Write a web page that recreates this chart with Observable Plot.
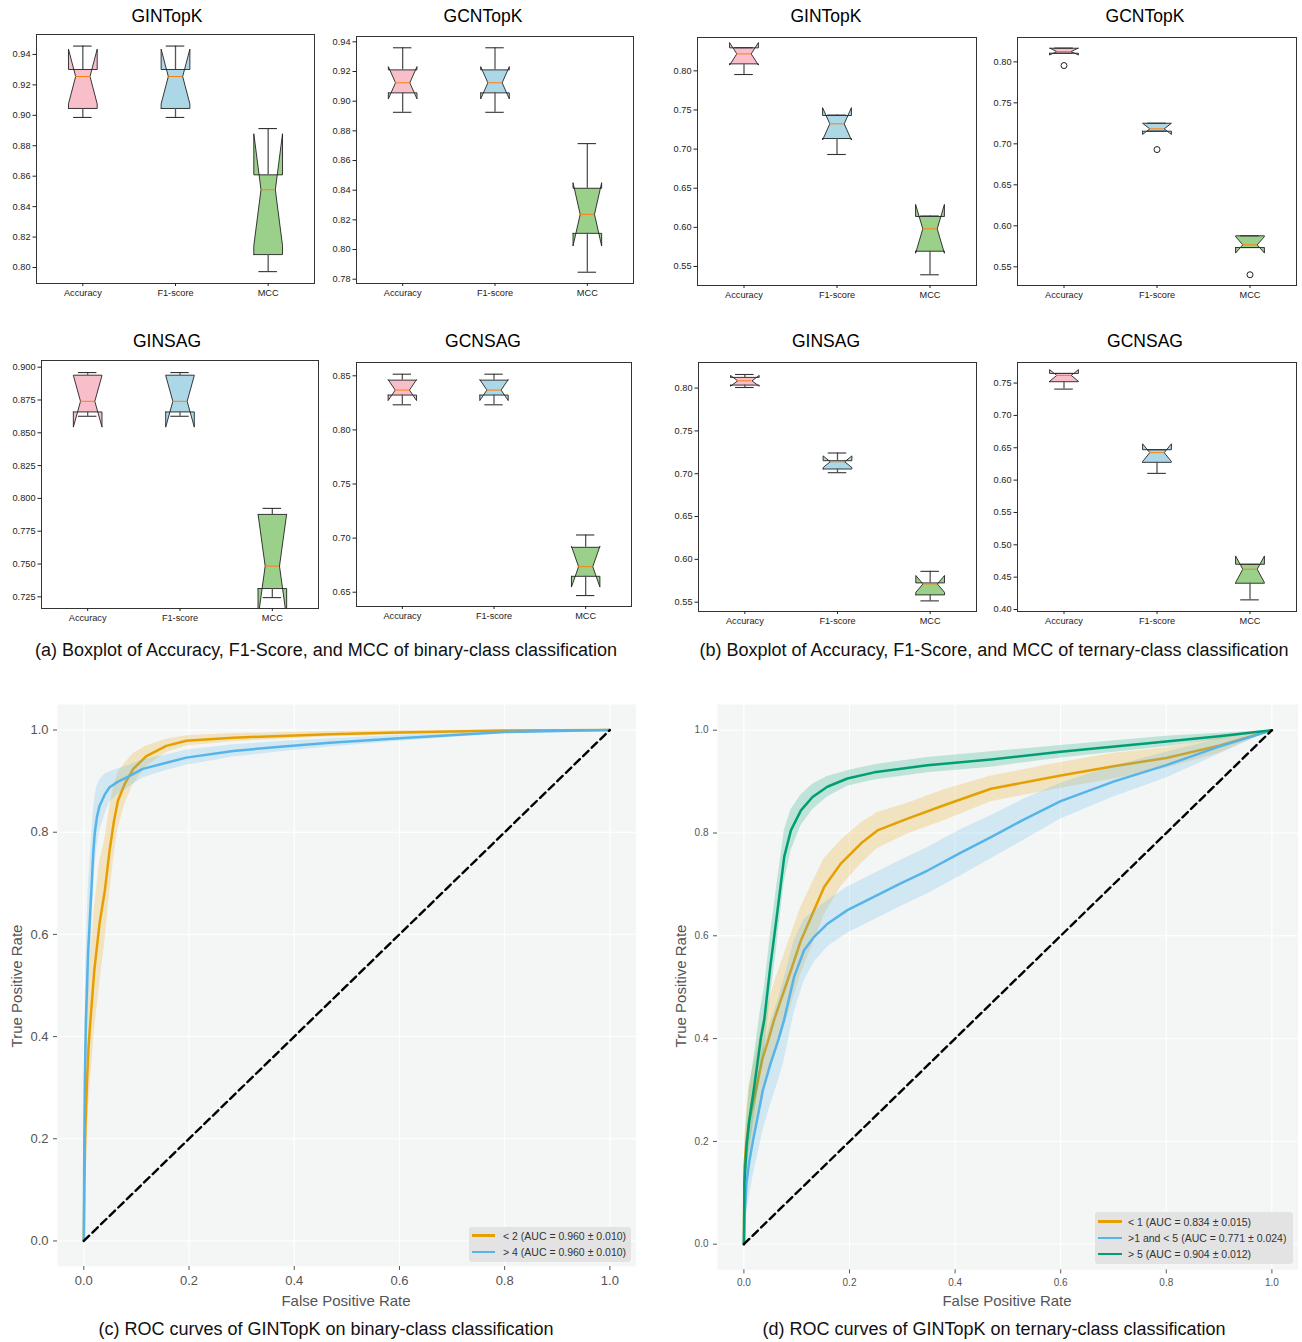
<!DOCTYPE html>
<html><head><meta charset="utf-8">
<script src="https://cdn.jsdelivr.net/npm/d3@7"></script>
<script src="https://cdn.jsdelivr.net/npm/@observablehq/plot@0.6"></script>
<style>
body{margin:0;background:#fff;font-family:"Liberation Sans",Arial,Helvetica,sans-serif;}
#root{position:relative;width:1302px;height:1342px;overflow:hidden;background:#fff;}
.title{position:absolute;font-size:17.5px;color:#000;transform:translate(-50%,-50%);white-space:nowrap;}
.cap{position:absolute;font-size:18px;color:#111;transform:translate(-50%,-50%);white-space:nowrap;}
.axl{position:absolute;font-size:15px;color:#555;transform:translate(-50%,-50%);white-space:nowrap;}
.leg{position:absolute;background:#e3e3e3;border-radius:3px;font-size:10.5px;color:#333;}
.leg .sw{position:absolute;height:2.5px;}
.leg .tx{position:absolute;transform:translateY(-50%);white-space:nowrap;}
</style></head><body><div id="root"></div>
<script>
// ---------- Box plot data: [whiskerLow, Q1, median, Q3, whiskerHigh] per metric ----------
const metrics = ["Accuracy", "F1-score", "MCC"];
const binGINTopK = [[0.8986,0.9045,0.9255,0.9301,0.9455],[0.8986,0.9045,0.9255,0.9301,0.9455],[0.7973,0.8085,0.8511,0.8609,0.8913]];
const binGCNTopK = [[0.8925,0.9056,0.9124,0.9211,0.9360],[0.8925,0.9056,0.9124,0.9211,0.9360],[0.7847,0.8109,0.8237,0.8413,0.8714]];
const binGINSAG  = [[0.8626,0.8659,0.8740,0.8939,0.8959],[0.8626,0.8659,0.8740,0.8939,0.8959],[0.7244,0.7313,0.7484,0.7878,0.7924]];
const binGCNSAG  = [[0.8232,0.8322,0.8368,0.8460,0.8515],[0.8232,0.8322,0.8368,0.8460,0.8515],[0.6469,0.6647,0.6736,0.6915,0.7029]];
const terGINTopK = [[0.7953,0.8089,0.8217,0.8294,0.8296],[0.6931,0.7135,0.7323,0.7429,0.7435],[0.5394,0.5695,0.5981,0.6139,0.6145]];
const terGCNTopK = [[0.8105,0.8105,0.8126,0.8166,0.8168],[0.7154,0.7154,0.7183,0.7251,0.7251],[0.5735,0.5735,0.5768,0.5878,0.5878]];
const terGCNTopKOutliers = [0.7955, 0.6930, 0.5403];
const terGINSAG  = [[0.8007,0.8035,0.8085,0.8125,0.8159],[0.7012,0.7055,0.7140,0.7152,0.7242],[0.5515,0.5585,0.5713,0.5725,0.5860]];
const terGCNSAG  = [[0.7407,0.7521,0.7618,0.7649,0.7649],[0.6104,0.6275,0.6424,0.6470,0.6470],[0.4149,0.4406,0.4622,0.4699,0.4699]];
const foldCount = 5;

// ---------- ROC data (mean FPR grid, mean TPR, TPR std) ----------
const binLt2Fpr = [0,0.001,0.003,0.006,0.009,0.0127,0.020,0.030,0.040,0.049,0.057,0.065,0.078,0.094,0.119,0.157,0.195,0.284,0.468,0.600,0.800,1.0];
const binLt2Tpr = [0,0.10,0.22,0.31,0.38,0.433,0.53,0.622,0.686,0.764,0.82,0.862,0.895,0.924,0.949,0.969,0.979,0.985,0.992,0.995,0.999,1.0];
const binLt2Std = [0,0.06,0.09,0.11,0.12,0.12,0.12,0.12,0.10,0.085,0.07,0.055,0.04,0.03,0.02,0.013,0.01,0.008,0.005,0.004,0.002,0];
const binGt4Fpr = [0,0.001,0.002,0.004,0.008,0.012,0.0146,0.018,0.021,0.025,0.030,0.040,0.049,0.065,0.081,0.112,0.157,0.195,0.284,0.379,0.468,0.600,0.800,1.0];
const binGt4Tpr = [0,0.20,0.32,0.43,0.56,0.64,0.69,0.76,0.80,0.83,0.852,0.874,0.888,0.899,0.907,0.924,0.936,0.946,0.959,0.968,0.975,0.984,0.996,1.0];
const binGt4Std = [0,0.08,0.10,0.12,0.12,0.11,0.10,0.08,0.07,0.06,0.05,0.04,0.03,0.025,0.022,0.018,0.015,0.015,0.012,0.01,0.008,0.006,0.003,0];

const terLt1Fpr = [0,0.001,0.005,0.010,0.023,0.035,0.047,0.057,0.083,0.108,0.133,0.152,0.184,0.222,0.253,0.310,0.379,0.468,0.600,0.700,0.800,0.900,1.0];
const terLt1Tpr = [0,0.15,0.20,0.24,0.30,0.36,0.40,0.436,0.514,0.591,0.650,0.695,0.741,0.780,0.805,0.828,0.854,0.886,0.912,0.930,0.946,0.970,1.0];
const terLt1Std = [0,0.05,0.06,0.07,0.07,0.07,0.07,0.07,0.07,0.065,0.06,0.055,0.045,0.04,0.035,0.03,0.03,0.025,0.025,0.025,0.02,0.015,0];
const terMidFpr = [0,0.001,0.005,0.010,0.017,0.036,0.050,0.066,0.076,0.095,0.114,0.133,0.159,0.196,0.247,0.297,0.348,0.411,0.468,0.530,0.600,0.700,0.800,0.900,1.0];
const terMidTpr = [0,0.05,0.12,0.16,0.20,0.30,0.35,0.40,0.436,0.520,0.572,0.598,0.624,0.650,0.676,0.702,0.727,0.762,0.792,0.826,0.862,0.900,0.932,0.968,1.0];
const terMidStd = [0,0.04,0.06,0.07,0.07,0.08,0.08,0.08,0.08,0.07,0.06,0.05,0.045,0.045,0.045,0.045,0.045,0.045,0.042,0.04,0.035,0.03,0.025,0.015,0];
const terGt5Fpr = [0,0.001,0.005,0.010,0.020,0.032,0.0385,0.050,0.0606,0.0764,0.089,0.108,0.130,0.158,0.196,0.247,0.348,0.468,0.600,0.800,0.900,1.0];
const terGt5Tpr = [0,0.12,0.19,0.24,0.31,0.40,0.436,0.54,0.624,0.754,0.805,0.844,0.870,0.890,0.906,0.918,0.932,0.943,0.958,0.978,0.988,1.0];
const terGt5Std = [0,0.04,0.05,0.06,0.06,0.06,0.06,0.06,0.06,0.05,0.04,0.03,0.025,0.02,0.015,0.015,0.015,0.015,0.012,0.01,0.006,0];

const rocTicks = [0, 0.2, 0.4, 0.6, 0.8, 1.0];
const chance = [0, 1];
const legendC = ["< 2 (AUC = 0.960 ± 0.010)", "> 4 (AUC = 0.960 ± 0.010)"];
const legendD = ["< 1 (AUC = 0.834 ± 0.015)", ">1 and < 5 (AUC = 0.771 ± 0.024)", "> 5 (AUC = 0.904 ± 0.012)"];

// ---------- styles ----------
const boxFill = ["#f8bfcb", "#acd7e6", "#9bd08b"];
const orange = "#E69F00", sky = "#56B4E9", green = "#009E73";
const FONT = '"Liberation Sans", Arial, Helvetica, sans-serif';

const root = document.getElementById("root");
function put(el, left, top) { el.style.position = "absolute"; el.style.left = left + "px"; el.style.top = top + "px"; root.appendChild(el); return el; }
function text(cls, str, x, y) { const d = document.createElement("div"); d.className = cls; d.textContent = str; d.style.left = x + "px"; d.style.top = y + "px"; root.appendChild(d); return d; }

function boxPlot(stats, outliers, yDomain, yTicks, yFmt, fr) {
  const [L, T, R, B] = fr;
  const mL = 40, mT = 6, mR = 6, mB = 24;
  const hw = 0.155, nw = 0.0775, cw = 0.1;
  const poly = [], whisk = [], caps = [], meds = [];
  stats.forEach(([wl, q1, med, q3, wh], i) => {
    const p = i + 1, n = 1.57 * (q3 - q1) / Math.sqrt(foldCount);
    const lo = med - n, hi = med + n;
    const xs = [p-hw, p+hw, p+hw, p+nw, p+hw, p+hw, p-hw, p-hw, p-nw, p-hw, p-hw];
    const ys = [q1, q1, lo, med, hi, q3, q3, hi, med, lo, q1];
    xs.forEach((x, k) => poly.push({i, x, y: ys[k], c: boxFill[i]}));
    whisk.push({x: p, y1: wl, y2: q1}, {x: p, y1: q3, y2: wh});
    caps.push({x1: p - cw, x2: p + cw, y: wl}, {x1: p - cw, x2: p + cw, y: wh});
    meds.push({x1: p - nw, x2: p + nw, y: med});
  });
  const outs = (outliers || []).map((v, i) => ({x: i + 1, y: v}));
  const svg = Plot.plot({
    width: (R - L) + mL + mR, height: (B - T) + mT + mB,
    marginLeft: mL, marginRight: mR, marginTop: mT, marginBottom: mB,
    style: {fontFamily: FONT, fontSize: "9px", color: "#222", background: "transparent"},
    x: {domain: [0.5, 3.5], label: null},
    y: {domain: yDomain, label: null},
    marks: [
      Plot.line(poly, {x: "x", y: "y", z: "i", fill: "c", stroke: "#222", strokeWidth: 0.9, strokeLinejoin: "miter", clip: true}),
      Plot.ruleX(whisk, {x: "x", y1: "y1", y2: "y2", stroke: "#555", strokeWidth: 1.3, clip: true}),
      Plot.ruleY(caps, {x1: "x1", x2: "x2", y: "y", stroke: "#333", strokeWidth: 1.1, clip: true}),
      Plot.ruleY(meds, {x1: "x1", x2: "x2", y: "y", stroke: "#ff7f0e", strokeWidth: 1}),
      Plot.dot(outs, {x: "x", y: "y", r: 3, stroke: "#222", fill: "none", strokeWidth: 1}),
      Plot.frame({stroke: "#333", strokeWidth: 1}),
      Plot.axisY({ticks: yTicks, tickFormat: d3.format(yFmt), tickSize: 3.5, tickPadding: 2.5, fontSize: 9.2, color: "#222", label: null}),
      Plot.axisX({ticks: [1, 2, 3], tickFormat: d => metrics[d - 1], tickSize: 3, tickPadding: 3, fontSize: 9.2, color: "#222", label: null})
    ]
  });
  put(svg, L - mL, T - mT);
}

function rocPlot(curves, fr, tickFont, tickPad) {
  const [L, T, W, H] = fr;
  const mL = 57, mT = 10, mR = 6, mB = 40;
  const marks = [
    Plot.frame({fill: "#f4f6f6", stroke: null}),
    Plot.gridX({ticks: rocTicks, stroke: "#ffffff", strokeOpacity: 1, strokeWidth: 1}),
    Plot.gridY({ticks: rocTicks, stroke: "#ffffff", strokeOpacity: 1, strokeWidth: 1})
  ];
  curves.forEach(c => {
    const rows = c.fpr.map((f, k) => ({fpr: f, tpr: c.tpr[k], lo: Math.max(0, c.tpr[k] - c.sd[k]), hi: Math.min(1, c.tpr[k] + c.sd[k])}));
    marks.push(Plot.areaY(rows, {x: "fpr", y1: "lo", y2: "hi", fill: c.color, fillOpacity: 0.22}));
    marks.push(Plot.line(rows, {x: "fpr", y: "tpr", stroke: c.color, strokeWidth: 2.5}));
  });
  marks.push(Plot.line(chance.map(v => ({v})), {x: "v", y: "v", stroke: "#000", strokeWidth: 2.4, strokeDasharray: "7.5,4.5"}));
  marks.push(Plot.axisX({ticks: rocTicks, tickFormat: d3.format(".1f"), tickSize: 4, tickPadding: tickPad, fontSize: tickFont, color: "#555", label: null}));
  marks.push(Plot.axisY({ticks: rocTicks, tickFormat: d3.format(".1f"), tickSize: 4, tickPadding: tickPad, fontSize: tickFont, color: "#555", label: null}));
  const svg = Plot.plot({
    width: W + mL + mR, height: H + mT + mB,
    marginLeft: mL, marginRight: mR, marginTop: mT, marginBottom: mB,
    style: {fontFamily: FONT, fontSize: tickFont + "px", color: "#555", background: "transparent"},
    x: {domain: [-0.05, 1.05], label: null},
    y: {domain: [-0.05, 1.05], label: null},
    marks
  });
  put(svg, L - mL, T - mT);
}

function legend(labels, colors, box, rowY, lineX, lineW, textX) {
  const d = document.createElement("div");
  d.className = "leg";
  d.style.left = box[0] + "px"; d.style.top = box[1] + "px"; d.style.width = box[2] + "px"; d.style.height = box[3] + "px";
  labels.forEach((lab, i) => {
    const sw = document.createElement("div"); sw.className = "sw";
    sw.style.left = lineX + "px"; sw.style.width = lineW + "px"; sw.style.top = (rowY[i] - 1.25) + "px"; sw.style.background = colors[i];
    const tx = document.createElement("div"); tx.className = "tx"; tx.textContent = lab;
    tx.style.left = textX + "px"; tx.style.top = rowY[i] + "px";
    d.appendChild(sw); d.appendChild(tx);
  });
  root.appendChild(d);
}

// ---------- boxplots ----------
boxPlot(binGINTopK, null, [0.7895, 0.9531], d3.range(0.80, 0.9401, 0.02), ".2f", [36, 34, 314, 283]);
boxPlot(binGCNTopK, null, [0.7771, 0.9436], d3.range(0.78, 0.9401, 0.02), ".2f", [356, 36, 633, 283]);
boxPlot(terGINTopK, null, [0.5257, 0.8426], d3.range(0.55, 0.8001, 0.05), ".2f", [697, 37, 976, 285]);
boxPlot(terGCNTopK, terGCNTopKOutliers, [0.5272, 0.8297], d3.range(0.55, 0.8001, 0.05), ".2f", [1017, 37, 1296, 285]);
boxPlot(binGINSAG, null, [0.7161, 0.9051], d3.range(0.725, 0.9001, 0.025), ".3f", [41, 360, 318, 608]);
boxPlot(binGCNSAG, null, [0.6368, 0.8623], d3.range(0.65, 0.8501, 0.05), ".2f", [356, 362, 631, 606]);
boxPlot(terGINSAG, null, [0.5391, 0.8299], d3.range(0.55, 0.8001, 0.05), ".2f", [698, 362, 976, 611]);
boxPlot(terGCNSAG, null, [0.3969, 0.7818], d3.range(0.40, 0.7501, 0.05), ".2f", [1017, 362, 1296, 611]);

text("title", "GINTopK", 167, 16);
text("title", "GCNTopK", 483, 16);
text("title", "GINTopK", 826, 16);
text("title", "GCNTopK", 1145, 16);
text("title", "GINSAG", 167, 341);
text("title", "GCNSAG", 483, 341);
text("title", "GINSAG", 826, 341);
text("title", "GCNSAG", 1145, 341);

text("cap", "(a) Boxplot of Accuracy, F1-Score, and MCC of binary-class classification", 326, 650);
text("cap", "(b) Boxplot of Accuracy, F1-Score, and MCC of ternary-class classification", 994, 650);

// ---------- ROC curves ----------
rocPlot([
  {color: orange, fpr: binLt2Fpr, tpr: binLt2Tpr, sd: binLt2Std},
  {color: sky, fpr: binGt4Fpr, tpr: binGt4Tpr, sd: binGt4Std}
], [57.3, 704, 578.7, 562], 13, 5);
rocPlot([
  {color: orange, fpr: terLt1Fpr, tpr: terLt1Tpr, sd: terLt1Std},
  {color: sky, fpr: terMidFpr, tpr: terMidTpr, sd: terMidStd},
  {color: green, fpr: terGt5Fpr, tpr: terGt5Tpr, sd: terGt5Std}
], [716.6, 704.3, 580.8, 565.4], 10, 5);

const yl1 = text("axl", "True Positive Rate", 16, 986); yl1.style.transform = "translate(-50%,-50%) rotate(-90deg)";
text("axl", "False Positive Rate", 346, 1300);
const yl2 = text("axl", "True Positive Rate", 680, 986); yl2.style.transform = "translate(-50%,-50%) rotate(-90deg)";
text("axl", "False Positive Rate", 1007, 1300);

legend(legendC, [orange, sky], [469, 1227, 162, 35], [8.5, 25], 3, 23, 34);
legend(legendD, [orange, sky, green], [1095, 1212, 198, 52], [9.5, 26, 42], 2.5, 24, 33);

text("cap", "(c) ROC curves of GINTopK on binary-class classification", 326, 1329);
text("cap", "(d) ROC curves of GINTopK on ternary-class classification", 994, 1329);
</script></body></html>
